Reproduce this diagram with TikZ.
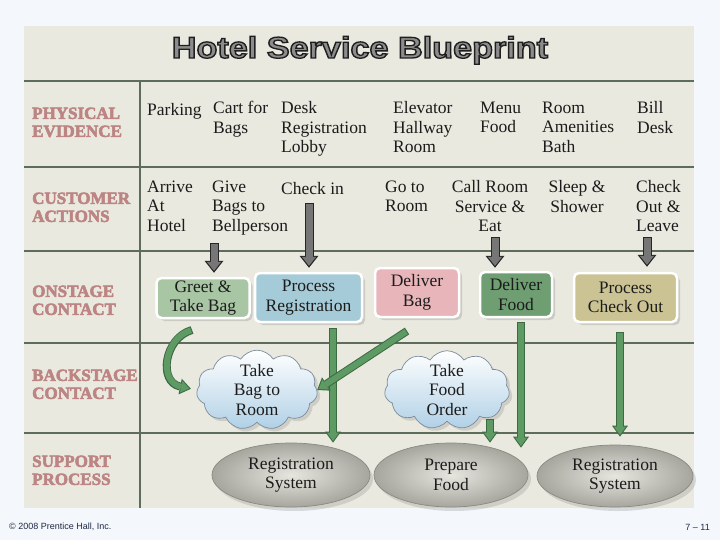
\documentclass[tikz,border=0pt]{standalone}
\usepackage{fontspec}
\setmainfont{Liberation Serif}
\newfontfamily\ttlfont{Liberation Sans}
\newfontfamily\ftfont{Liberation Sans}
\usetikzlibrary{shapes.symbols,shapes.geometric,shadows,arrows.meta}
\definecolor{outerbg}{HTML}{F4F7FB}
\definecolor{panel}{HTML}{E9E9DF}
\definecolor{gridc}{HTML}{5E6C5C}
\definecolor{lblfill}{HTML}{BC8482}
\definecolor{txt}{HTML}{1C1C1C}
\definecolor{titlegray}{HTML}{8C8C8C}
\definecolor{greenc}{HTML}{A8C6A4}
\definecolor{regc}{HTML}{A6CBD8}
\definecolor{bagc}{HTML}{E8B6BA}
\definecolor{foodc}{HTML}{6E9E72}
\definecolor{outc}{HTML}{CBC393}
\definecolor{gmid}{HTML}{5E9A64}
\definecolor{gdark}{HTML}{3C6A42}
\definecolor{arrgray}{HTML}{767676}
\definecolor{cloudb}{HTML}{B0D0E6}
\definecolor{cloudline}{HTML}{7C8C9C}
\definecolor{ellin}{HTML}{E6E6DE}
\definecolor{ellout}{HTML}{A6A69E}
\definecolor{ellline}{HTML}{8A8A82}
\definecolor{footc}{HTML}{1F2A44}
\newcommand\bdfont{\fontsize{17.5}{19.5}\selectfont}
\newcommand\lblfont{\fontsize{17}{18}\selectfont\bfseries}
\newcommand\strkon[2]{\special{pdf:literal direct 2 Tr #2 w #1 RG}}
\newcommand\strkoff{\special{pdf:literal direct 0 Tr}}
\begin{document}
\begin{tikzpicture}[x=1pt,y=-1pt,
  gridln/.style={draw=gridc, line width=1.3pt},
  lbl/.style={anchor=north west, inner sep=0pt, align=left, font=\lblfont, text=lblfill,
    execute at begin node={\strut\strkon{0.42 0.26 0.25}{0.55}}, execute at end node={\strkoff}},
  tx/.style={anchor=north west, inner sep=0pt, align=left, font=\bdfont, text=txt,
    execute at begin node={\strut}},
  txc/.style={tx, anchor=north, align=center},
  onbox/.style={rectangle, rounded corners=5pt, draw=white, line width=2.5pt, align=center,
    font=\bdfont, text=txt, inner sep=0pt,
    drop shadow={opacity=0.28, shadow xshift=3pt, shadow yshift=-3pt}},
  cloudn/.style={cloud, cloud puffs=11, cloud puff arc=115, cloud ignores aspect,
    draw=cloudline, line width=0.7pt, top color=white, bottom color=cloudb,
    align=center, font=\bdfont, text=txt, inner sep=0pt,
    drop shadow={opacity=0.25, shadow xshift=3pt, shadow yshift=-3pt}},
  elln/.style={ellipse, draw=ellline, line width=0.7pt, inner color=ellin, outer color=ellout,
    align=center, font=\bdfont, text=txt, inner sep=0pt,
    drop shadow={opacity=0.25, shadow xshift=3pt, shadow yshift=-4pt}},
  darkout/.style={line width=9pt, draw=black!85, shorten >=#1,
    -{Triangle[width=19pt,length=12pt,line width=0pt]}},
  darkout/.default=0pt,
  darkin/.style={line width=7pt, draw=arrgray, shorten <=1pt, shorten >=#1+1.95pt,
    -{Triangle[width=14pt,length=8.85pt,line width=0pt]}},
  darkin/.default=0pt,
  gout/.style={line width=8pt, draw=gdark, shorten >=#1,
    -{Triangle[width=16pt,length=11pt,line width=0pt]}},
  gout/.default=0pt,
  gin/.style={line width=6pt, draw=gmid, shorten <=1pt, shorten >=#1+1.7pt,
    -{Triangle[width=12pt,length=8.3pt,line width=0pt]}},
  gin/.default=0pt]
\useasboundingbox (0,0) rectangle (720,540);
\fill[outerbg] (0,0) rectangle (720,540);
\fill[panel] (24,26) rectangle (694,508);
% grid
\draw[gridln] (24,81) -- (694,81);
\draw[gridln] (24,167) -- (694,167);
\draw[gridln] (24,251) -- (694,251);
\draw[gridln] (24,343) -- (694,343);
\draw[gridln] (24,433) -- (694,433);
\draw[gridln] (140,81) -- (140,508);
% title
\node[anchor=base, inner sep=0pt, font=\ttlfont\bfseries\fontsize{30}{30}\selectfont] (title) at (360,58)
  {\scalebox{1.14}[1]{\color{titlegray}\strkon{0.12 0.12 0.12}{1.3}Hotel Service Blueprint\strkoff}};
% row labels
\node[lbl] (lpe) at (32,107.4) {PHYSICAL\\EVIDENCE};
\node[lbl] (lca) at (32,192.4) {CUSTOMER\\ACTIONS};
\node[lbl] (loc) at (32,285.4) {ONSTAGE\\CONTACT};
\node[lbl] (lbc) at (32,369.4) {BACKSTAGE\\CONTACT};
\node[lbl] (lsp) at (32,455.4) {SUPPORT\\PROCESS};
% physical evidence
\node[tx] (park) at (147,101.35) {Parking};
\node[tx] (cart) at (213,101.35) {Cart for\\Bags};
\node[tx] (desk) at (281,101.35) {Desk\\Registration\\Lobby};
\node[tx] (elev) at (393,101.35) {Elevator\\Hallway\\Room};
\node[tx] (menu) at (480,101.35) {Menu\\Food};
\node[tx] (amen) at (542,101.35) {Room\\Amenities\\Bath};
\node[tx] (bill) at (637,101.35) {Bill\\Desk};
% customer actions
\node[tx] (arrive) at (147,180.35) {Arrive\\At\\Hotel};
\node[tx] (give) at (212,180.35) {Give\\Bags to\\Bellperson};
\node[tx] (checkin) at (281,180.35) {Check in};
\node[tx] (goto) at (385,180.35) {Go to\\Room};
\node[txc] (call) at (490,180.35) {Call Room\\Service \&\\Eat};
\node[txc] (sleep) at (577,180.35) {Sleep \&\\Shower};
\node[tx] (chout) at (636,180.35) {Check\\Out \&\\Leave};
% onstage
\node[onbox, fill=greenc, minimum width=93pt, minimum height=40pt] (greet) at (203,298) {Greet \&\\Take Bag};
\node[onbox, fill=regc, minimum width=107pt, minimum height=49pt] (procreg) at (308.5,297.5) {Process\\Registration};
\node[onbox, fill=bagc, minimum width=84pt, minimum height=49pt] (delbag) at (417,292.5) {Deliver\\Bag};
\node[onbox, fill=foodc, minimum width=72pt, minimum height=45pt] (delfood) at (516,294.5) {Deliver\\Food};
\node[onbox, fill=outc, minimum width=103pt, minimum height=49pt] (procout) at (625.5,297.5) {Process\\Check Out};
% backstage
\node[cloudn, minimum width=121pt, minimum height=74pt] (tbag) at (257,390) {Take\\Bag to\\Room};
\node[cloudn, minimum width=125pt, minimum height=64pt] (tfood) at (447,390) {Take\\Food\\Order};
% support
\node[elln, minimum width=158pt, minimum height=64pt] (rs1) at (291,475) {Registration\\System};
\node[elln, minimum width=154pt, minimum height=64pt] (pf) at (451,475) {Prepare\\Food};
\node[elln, minimum width=156pt, minimum height=62pt] (rs2) at (615,476) {Registration\\System};
% dark arrows
\coordinate (d1) at (214,243);
\coordinate (d2) at (309,203);
\coordinate (d3) at (495,237);
\coordinate (d4) at (647,237);
\draw[darkout=4pt] (d1) -- (d1 |- greet.north);
\draw[darkin=4pt] (d1) -- (d1 |- greet.north);
\draw[darkout=4pt] (d2) -- (d2 |- procreg.north);
\draw[darkin=4pt] (d2) -- (d2 |- procreg.north);
\draw[darkout=3pt] (d3) -- (d3 |- delfood.north);
\draw[darkin=3pt] (d3) -- (d3 |- delfood.north);
\draw[darkout=5pt] (d4) -- (d4 |- procout.north);
\draw[darkin=5pt] (d4) -- (d4 |- procout.north);
% green arrows
\coordinate (c1) at (192,330);
\coordinate (g2) at (333,328);
\coordinate (g3) at (407,331);
\coordinate (g4) at (490,419);
\coordinate (g5) at (521,322);
\coordinate (g6) at (620,332);
\draw[gout=6pt] (c1) .. controls (164,338) and (158,382) .. (tbag.west);
\draw[gin=6pt] (c1) .. controls (164,338) and (158,382) .. (tbag.west);
\draw[gout] (g2) -- (g2 |- rs1.north);
\draw[gin] (g2) -- (g2 |- rs1.north);
\draw[gout] (g3) -- (tbag.east);
\draw[gin] (g3) -- (tbag.east);
\draw[gout] (g4) -- (g4 |- pf.north);
\draw[gin] (g4) -- (g4 |- pf.north);
\draw[gout=-5pt] (g5) -- (g5 |- pf.north);
\draw[gin=-5pt] (g5) -- (g5 |- pf.north);
\draw[gout=8pt] (g6) -- (g6 |- rs2.north);
\draw[gin=8pt] (g6) -- (g6 |- rs2.north);
% footer
\node[anchor=west, inner sep=0pt, font=\ftfont\fontsize{9}{10}\selectfont, text=footc] (copy) at (9,527) {© 2008 Prentice Hall, Inc.};
\node[anchor=east, inner sep=0pt, font=\ftfont\fontsize{9}{10}\selectfont, text=footc] (pg) at (710,527) {7 – 11};
\end{tikzpicture}
\end{document}
